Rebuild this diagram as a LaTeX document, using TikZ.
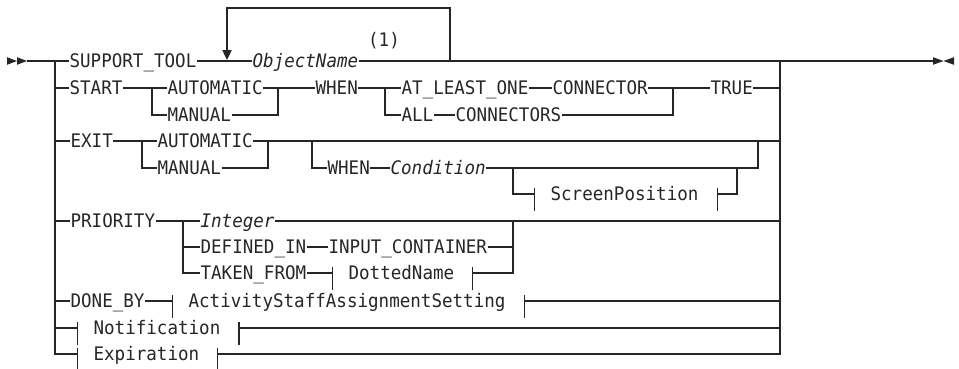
\documentclass[tikz,border=0pt]{standalone}
\usepackage{fontspec}
\newfontfamily\dmono[FakeStretch=0.94]{DejaVu Sans Mono}
\usetikzlibrary{arrows.meta,calc}
\definecolor{ink}{HTML}{262626}
\tikzset{
  kw/.style={anchor=west, inner sep=0pt, text height=10.2pt, text depth=0pt,
    font={\fontsize{14pt}{16pt}\selectfont\dmono}},
  var/.style={kw, font={\fontsize{14pt}{16pt}\selectfont\dmono\itshape}},
}
\begin{document}
\begin{tikzpicture}[x=0.75pt,y=-0.75pt,color=ink,line width=0.9pt]
\useasboundingbox (0,0) rectangle (959,368);
\clip (0,0) rectangle (959,368);
% buses
\coordinate (Lb) at (55,61);
\coordinate (Rb) at (780,61);
\coordinate (Lbot) at (55,354);
\coordinate (Rbot) at (780,354);
% start / end symbols
\fill (7,57.2) -- (17,61) -- (7,64.8) -- cycle;
\fill (17,57.2) -- (27,61) -- (17,64.8) -- cycle;
\coordinate (s0) at (27,61);
\fill (933,57.2) -- (943.5,61) -- (933,64.8) -- cycle;
\fill (954,57.2) -- (943.5,61) -- (954,64.8) -- cycle;
\coordinate (e0) at (933,61);

% ---- row 1
\node[kw] (support) at (69,61) {SUPPORT\_TOOL};
\node[var] (objname) at (252,61) {ObjectName};
\node[kw,anchor=center] (note1) at (384,40) {(1)};
\coordinate (lpR) at (450,61);
\coordinate (lpT) at (450,8);
\coordinate (lpL) at (227,60);
% ---- row 2
\node[kw] (start) at (69,88) {START};
\node[kw] (auto1) at (167,88) {AUTOMATIC};
\node[kw] (man1) at (167,115) {MANUAL};
\node[kw] (when1) at (315,88) {WHEN};
\node[kw] (alo) at (401,88) {AT\_LEAST\_ONE};
\node[kw] (conn) at (552,88) {CONNECTOR};
\node[kw] (all) at (401,115) {ALL};
\node[kw] (conns) at (455,115) {CONNECTORS};
\node[kw] (true) at (710,88) {TRUE};
\coordinate (b2a) at (152,88);
\coordinate (j2a) at (278,88);
\coordinate (b2b) at (385,88);
\coordinate (j2b) at (673,88);
% ---- row 3
\node[kw] (exit) at (70,141) {EXIT};
\node[kw] (auto2) at (157,141) {AUTOMATIC};
\node[kw] (man2) at (157,168) {MANUAL};
\node[kw] (when2) at (327,168) {WHEN};
\node[var] (cond) at (390,168) {Condition};
\node[kw] (scr) at (550,194) {ScreenPosition};
\coordinate (b3a) at (142,141);
\coordinate (j3a) at (268,141);
\coordinate (o3) at (312,141);
\coordinate (j3b) at (758,141);
\coordinate (n3) at (513,168);
\coordinate (j3c) at (737,168);
% ---- row 4
\node[kw] (prio) at (70,221) {PRIORITY};
\node[var] (integer) at (200,221) {Integer};
\node[kw] (defin) at (200,247) {DEFINED\_IN};
\node[kw] (inputc) at (328,247) {INPUT\_CONTAINER};
\node[kw] (taken) at (200,273) {TAKEN\_FROM};
\node[kw] (dotted) at (348,273) {DottedName};
\coordinate (b4) at (183,221);
\coordinate (j4) at (513,221);
% ---- row 5-7
\node[kw] (doneby) at (70,301) {DONE\_BY};
\node[kw] (act) at (188,301) {ActivityStaffAssignmentSetting};
\node[kw] (notif) at (93,328) {Notification};
\node[kw] (expir) at (93,354) {Expiration};

% fragment tick coordinates
\foreach \n in {scr,dotted,act,notif,expir}{
  \coordinate (\n-l) at ($(\n.west)+(-15.5,0)$);
  \coordinate (\n-r) at ($(\n.east)+(18,0)$);
  \draw ($(\n-l)+(0,-6)$) -- ($(\n-l)+(0,17)$);
  \draw ($(\n-r)+(0,-6)$) -- ($(\n-r)+(0,17)$);
}

% ---- connectors
\draw (s0) -- (Lb);
\draw (Rb) -- (e0);
\draw (Lb) -- (Lbot) -- (expir-l);
\draw (expir-r) -- (Rbot) -- (Rb);
% row 1
\draw (Lb) -- (support.west);
\draw (support.east) -- (objname.west);
\draw (objname.east) -- (Rb);
\draw[-{Triangle[width=7pt,length=7.5pt]}] (lpR) -- (lpT) -| (lpL);
% row 2
\draw (start.west -| Lb) -- (start.west);
\draw (start.east) -- (auto1.west);
\draw (b2a) |- (man1.west);
\draw (auto1.east) -- (when1.west);
\draw (man1.east) -| (j2a);
\draw (when1.east) -- (alo.west);
\draw (alo.east) -- (conn.west);
\draw (b2b) |- (all.west);
\draw (all.east) -- (conns.west);
\draw (conn.east) -- (true.west);
\draw (conns.east) -| (j2b);
\draw (true.east) -- (true.east -| Rb);
% row 3
\draw (exit.west -| Lb) -- (exit.west);
\draw (exit.east) -- (auto2.west);
\draw (b3a) |- (man2.west);
\draw (auto2.east) -- (auto2.east -| Rb);
\draw (man2.east) -| (j3a);
\draw (o3) |- (when2.west);
\draw (when2.east) -- (cond.west);
\draw (cond.east) -| (j3b);
\draw (n3) |- (scr-l);
\draw (scr-r) -| (j3c);
% row 4
\draw (prio.west -| Lb) -- (prio.west);
\draw (prio.east) -- (integer.west);
\draw (integer.east) -- (integer.east -| Rb);
\draw (b4) |- (taken.west);
\draw (defin.west -| b4) -- (defin.west);
\draw (defin.east) -- (inputc.west);
\draw (inputc.east) -| (j4);
\draw (taken.east) -- (dotted-l);
\draw (dotted-r) -| (j4);
% row 5-7
\draw (doneby.west -| Lb) -- (doneby.west);
\draw (doneby.east) -- (act-l);
\draw (act-r) -- (act-r -| Rb);
\draw (notif-l -| Lb) -- (notif-l);
\draw (notif-r) -- (notif-r -| Rb);
\end{tikzpicture}
\end{document}
